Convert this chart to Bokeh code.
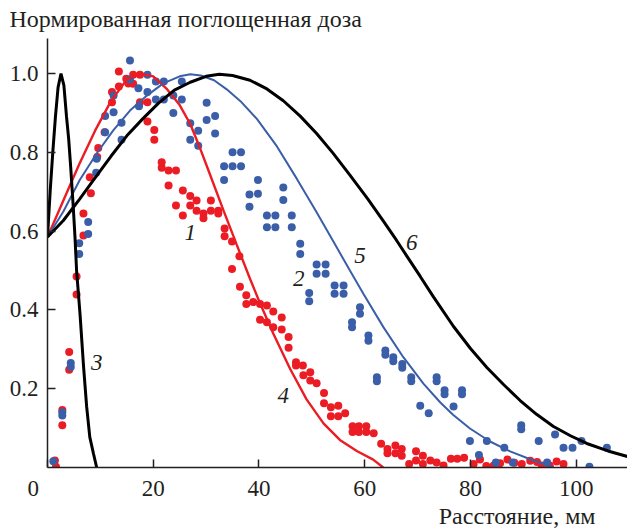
from bokeh.plotting import figure
from bokeh.models import Range1d, FixedTicker, NumeralTickFormatter, ColumnDataSource, Title
from bokeh.core.properties import value
from bokeh.embed import file_html
from bokeh.resources import INLINE

# Measured points, series 1 (red) and series 2 (blue)
dist_1 = [1.4, 1.6, 2.8, 2.8, 4.1, 4.1, 5.5, 5.5, 6.8, 6.8, 8.2, 8.0, 9.4, 9.6, 10.8,
          12.2, 12.2, 13.5, 13.5, 14.9, 15.3, 16.2, 16.2, 17.5, 17.5, 18.9, 18.9,
          20.2, 20.2, 21.6, 21.6, 22.9, 24.3, 22.9, 25.6, 27.0, 28.2, 24.3, 27.0,
          28.2, 25.6, 29.5, 29.5, 30.9, 30.9, 32.3, 32.3, 33.5, 33.5, 34.9, 36.3,
          34.9, 36.4, 37.6, 37.6, 38.9, 40.2, 41.5, 42.7, 40.2, 41.5, 42.7, 44.3,
          44.3, 45.6, 45.6, 47.0, 47.0, 48.3, 49.7, 48.4, 49.7, 50.9, 52.3, 52.3,
          53.6, 55.0, 53.6, 55.0, 56.3, 57.7, 57.7, 58.9, 58.9, 60.3, 60.3, 61.7,
          63.1, 64.3, 64.3, 65.8, 65.8, 67.0, 67.0, 68.4, 69.7, 69.7, 71.0, 71.0,
          72.4, 73.6, 74.9, 76.3, 77.5, 78.8, 80.6, 81.8, 83.0, 84.4, 85.6, 87.0,
          88.3, 89.7, 91.3, 92.6, 93.5, 95.0, 96.3, 97.6]
dose_1 = [0.018, 0.002, 0.146, 0.107, 0.293, 0.248, 0.485, 0.439, 0.645, 0.589,
          0.696, 0.737, 0.788, 0.811, 0.851, 0.927, 0.953, 0.967, 1.005, 0.987,
          0.975, 0.997, 0.974, 0.997, 0.927, 0.927, 0.878, 0.857, 0.832, 0.775,
          0.761, 0.754, 0.754, 0.716, 0.703, 0.689, 0.678, 0.665, 0.665, 0.652,
          0.640, 0.645, 0.633, 0.678, 0.652, 0.652, 0.645, 0.607, 0.587, 0.574,
          0.536, 0.504, 0.459, 0.437, 0.415, 0.420, 0.415, 0.411, 0.396, 0.375,
          0.369, 0.356, 0.381, 0.350, 0.331, 0.304, 0.267, 0.259, 0.259, 0.242,
          0.234, 0.221, 0.214, 0.189, 0.163, 0.153, 0.157, 0.130, 0.130, 0.138,
          0.105, 0.090, 0.105, 0.090, 0.105, 0.090, 0.087, 0.060, 0.047, 0.036,
          0.056, 0.036, 0.047, 0.030, 0.009, 0.041, 0.018, 0.030, 0.009, 0.018,
          0.013, 0.005, 0.022, 0.022, 0.025, 0.009, 0.020, 0.004, 0.005, 0.011,
          0.020, 0.012, 0.009, 0.017, 0.014, 0.005, 0.005, 0.015, 0.009]

dist_2 = [1.1, 2.8, 2.8, 4.4, 4.4, 6.0, 6.0, 7.7, 7.7, 9.3, 9.2, 10.9, 10.9, 12.5,
          12.5, 14.0, 14.0, 15.6, 15.6, 17.2, 17.3, 18.9, 18.9, 20.5, 20.5, 22.0,
          22.0, 23.8, 23.8, 25.4, 25.4, 27.0, 27.0, 28.5, 28.5, 30.1, 30.1, 31.7,
          31.7, 35.0, 36.6, 33.4, 35.0, 36.6, 33.4, 39.8, 38.2, 39.8, 38.2, 44.6,
          44.6, 41.5, 43.1, 41.5, 43.1, 46.2, 46.2, 47.8, 47.8, 50.9, 52.6, 50.9,
          52.6, 49.5, 49.5, 54.3, 56.0, 54.3, 56.0, 59.1, 59.1, 57.6, 57.6, 60.7,
          60.7, 63.9, 63.9, 65.4, 65.4, 67.1, 67.1, 68.8, 68.8, 62.3, 62.3, 73.6,
          73.6, 70.5, 72.1, 75.1, 75.1, 78.4, 78.4, 76.8, 79.9, 83.1, 81.6, 86.4,
          84.8, 88.0, 89.6, 89.6, 92.9, 94.5, 96.0, 97.6, 99.3, 101.0, 105.8, 102.5]
dose_2 = [0.016, 0.140, 0.132, 0.265, 0.255, 0.569, 0.542, 0.623, 0.593, 0.784,
          0.748, 0.892, 0.851, 0.944, 0.902, 0.875, 0.832, 1.033, 0.985, 0.963,
          0.917, 0.997, 0.953, 0.980, 0.934, 0.980, 0.934, 0.944, 0.900, 0.980,
          0.934, 0.874, 0.832, 0.855, 0.817, 0.926, 0.882, 0.892, 0.848, 0.800,
          0.800, 0.765, 0.765, 0.765, 0.730, 0.730, 0.693, 0.695, 0.662, 0.711,
          0.679, 0.640, 0.640, 0.610, 0.610, 0.640, 0.610, 0.568, 0.542, 0.515,
          0.515, 0.492, 0.492, 0.443, 0.422, 0.462, 0.462, 0.441, 0.441, 0.407,
          0.390, 0.369, 0.356, 0.335, 0.322, 0.297, 0.286, 0.280, 0.270, 0.263,
          0.253, 0.229, 0.219, 0.229, 0.219, 0.229, 0.219, 0.157, 0.138, 0.196,
          0.186, 0.196, 0.186, 0.155, 0.067, 0.067, 0.032, 0.050, 0.013, 0.013,
          0.107, 0.097, 0.067, 0.013, 0.084, 0.050, 0.050, 0.067, 0.050, 0.002]

# Calculated curves 3-6
dist_3 = [0, 0.5, 1.0, 1.5, 2.0, 2.55, 3.1, 3.6, 4.0, 4.4, 4.9, 5.2, 5.5, 6.15,
          6.8, 7.4, 8.0, 8.7, 9.3]
dose_3 = [0.585, 0.70, 0.80, 0.89, 0.965, 1.0, 0.97, 0.89, 0.835, 0.76, 0.655,
          0.585, 0.50, 0.39, 0.26, 0.155, 0.077, 0.035, 0.0]

dist_4 = [0, 3, 6, 9, 12, 15, 17.5, 20, 22.5, 25, 27, 28.9, 30.7, 33.3, 35.8,
          38.3, 40.2, 42.7, 45.9, 49.0, 52.2, 55.3, 58.5, 61.6, 63.5]
dose_4 = [0.585, 0.678, 0.77, 0.855, 0.93, 0.985, 1.0, 0.993, 0.962, 0.92, 0.872,
          0.809, 0.745, 0.652, 0.565, 0.479, 0.417, 0.34, 0.25, 0.173, 0.112,
          0.07, 0.042, 0.02, 0.0]

dist_5 = [0, 3, 6.1, 9.3, 12.4, 15.6, 18.8, 21.9, 25, 27, 29, 31.5, 33.9, 36.5,
          39.6, 43.4, 47.2, 50.9, 54.1, 57.2, 59.8, 63.5, 67.3, 71.1, 74.3, 76.7,
          79.9, 83.7, 87.5, 91.3, 94.1, 95.7]
dose_5 = [0.585, 0.65, 0.73, 0.797, 0.855, 0.906, 0.944, 0.975, 0.993, 0.998,
          0.995, 0.983, 0.96, 0.93, 0.885, 0.815, 0.732, 0.648, 0.573, 0.5,
          0.44, 0.357, 0.28, 0.213, 0.165, 0.134, 0.099, 0.066, 0.041, 0.021,
          0.008, 0.0]

dist_6 = [0, 3, 6, 9, 12, 15, 18, 21, 24, 27, 30, 32.5, 35, 38.3, 41.5, 44.6,
          47.8, 50.9, 54, 57.2, 60.5, 63.5, 66, 68, 70.5, 73, 76.8, 80, 83.1,
          86.3, 89.4, 92.5, 95.7, 99, 102, 106, 109.7]
dose_6 = [0.585, 0.627, 0.68, 0.735, 0.79, 0.842, 0.885, 0.925, 0.958, 0.978,
          0.993, 0.998, 0.995, 0.983, 0.961, 0.931, 0.892, 0.848, 0.798, 0.742,
          0.683, 0.626, 0.577, 0.536, 0.485, 0.433, 0.358, 0.302, 0.254, 0.21,
          0.17, 0.135, 0.104, 0.08, 0.061, 0.042, 0.028]

# Curve numbers and where they sit
curve_names = ["1", "2", "3", "4", "5", "6"]
name_x = [27.0, 47.5, 9.3, 44.6, 59.1, 68.9]
name_y = [0.596, 0.481, 0.267, 0.183, 0.538, 0.572]

x_ticks = [0, 20, 40, 60, 80, 100]
y_ticks = [0.2, 0.4, 0.6, 0.8, 1.0]

RED = "#ec1c24"
BLUE = "#3b5ea9"
INK = "#231f20"
SERIF = "Liberation Serif"
NB = "\u00a0"

p = figure(width=627, height=529, output_backend="svg", toolbar_location=None,
           x_range=Range1d(0, 109.7), y_range=Range1d(0, 1.089),
           min_border_left=47, min_border_right=0, min_border_top=38,
           min_border_bottom=62)
p.outline_line_color = None
p.grid.visible = False
p.background_fill_color = "white"
p.border_fill_color = "white"

p.title.text = "Нормированная поглощенная доза"
p.title.text_font = SERIF
p.title.text_font_size = "24px"
p.title.text_font_style = "normal"
p.title.text_color = INK
p.title.align = "left"
p.title.offset = -38
p.title.standoff = 9
p.title.vertical_align = "top"

for ax, ticks in ((p.xaxis, x_ticks), (p.yaxis, y_ticks)):
    ax.ticker = FixedTicker(ticks=ticks)
    ax.axis_line_color = INK
    ax.axis_line_width = 1.5
    ax.major_tick_line_color = INK
    ax.major_tick_line_width = 1.5
    ax.major_tick_in = 8
    ax.major_tick_out = 0
    ax.minor_tick_line_color = None
    ax.major_label_text_font = SERIF
    ax.major_label_text_font_size = "23px"
    ax.major_label_text_color = INK
p.xaxis.major_label_standoff = 8
p.yaxis.major_label_standoff = 9
p.yaxis.formatter = NumeralTickFormatter(format="0.0")
# the zero of the distance scale sits left of the corner
p.xaxis.major_label_overrides = {0: "0" + NB * 5}

# distance caption, flush with the right part of the axis
x_caption = Title(text="Расстояние, мм", align="right", offset=32, standoff=-5,
                  text_font=SERIF, text_font_size="24px", text_font_style="normal",
                  text_color=INK)
p.add_layout(x_caption, "below")

# measured dose points
p.scatter(dist_1, dose_1, size=8, color=RED, line_color=None)
p.scatter(dist_2, dose_2, size=8, color=BLUE, line_color=None)

# calculated curves
p.line(dist_4, dose_4, line_color=RED, line_width=2.4)
p.line(dist_5, dose_5, line_color=BLUE, line_width=2.0)
p.line(dist_6, dose_6, line_color="black", line_width=3.0)
p.line(dist_3, dose_3, line_color="black", line_width=3.0)

names = ColumnDataSource(dict(x=name_x, y=name_y, t=curve_names))
p.text(x="x", y="y", text="t", source=names, text_font=value(SERIF),
       text_font_style="italic", text_font_size="23px", text_color=INK,
       text_align="center", text_baseline="middle")

open("out.html", "w").write(file_html(p, INLINE))
